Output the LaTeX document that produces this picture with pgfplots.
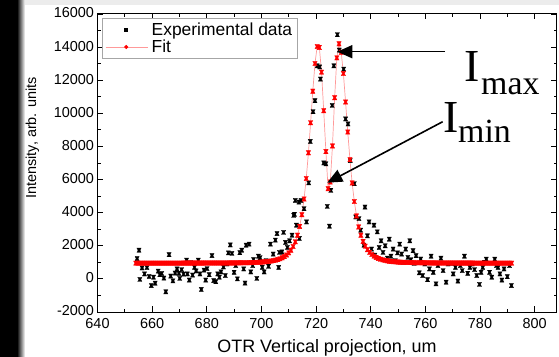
\documentclass[border=0pt]{standalone}
\usepackage{fontspec}
\setmainfont{Liberation Sans}
\newfontfamily\timesfont{Liberation Serif}
\usepackage{pgfplots}
\pgfplotsset{compat=1.18}
\usepackage{pgfplotstable}
\usetikzlibrary{arrows.meta}

\pgfdeclareplotmark{hg}{%
 \pgfpathmoveto{\pgfqpoint{-\pgfplotmarksize}{\pgfplotmarksize}}%
 \pgfpathlineto{\pgfqpoint{\pgfplotmarksize}{\pgfplotmarksize}}%
 \pgfpathlineto{\pgfqpoint{0.45\pgfplotmarksize}{0pt}}%
 \pgfpathlineto{\pgfqpoint{\pgfplotmarksize}{-\pgfplotmarksize}}%
 \pgfpathlineto{\pgfqpoint{-\pgfplotmarksize}{-\pgfplotmarksize}}%
 \pgfpathlineto{\pgfqpoint{-0.45\pgfplotmarksize}{0pt}}%
 \pgfpathclose
 \pgfusepathqfillstroke}

\pgfplotstableread[row sep=\\]{
x y\\
654.5 1230\\ 655.2 1730\\ 655.5 -30\\ 656.3 660\\ 657.2 300\\ 658.1 680\\ 658.9 150\\ 659.7 -400\\
660.5 100\\ 661.1 -260\\ 662.2 470\\ 662.8 250\\ 663.5 330\\ 664.3 50\\ 665.0 -780\\ 666.2 1460\\
666.8 170\\ 667.6 -120\\ 668.4 350\\ 669.1 600\\ 669.8 340\\ 670.1 30\\ 670.8 560\\ 671.5 290\\
672.6 1130\\ 672.9 300\\ 673.6 -70\\ 674.1 980\\ 674.8 230\\ 675.5 700\\ 676.1 480\\ 676.9 1130\\
677.5 300\\ 678.0 -640\\ 679.0 530\\ 679.6 -70\\ 680.1 620\\ 680.9 250\\ 681.9 1410\\ 682.5 -100\\
683.3 -170\\ 684.0 300\\ 684.6 100\\ 685.2 420\\ 686.1 720\\ 686.8 200\\ 687.4 900\\ 687.9 1570\\
688.6 2050\\ 689.2 1540\\ 690.0 400\\ 690.6 800\\ 691.2 0\\ 692.1 1580\\ 692.8 1730\\ 693.5 600\\
694.0 -250\\ 694.4 2035\\ 695.5 2100\\ 696.1 420\\ 696.8 800\\ 697.1 1170\\ 698.3 30\\ 698.9 1370\\
699.5 1280\\ 700.3 700\\ 701.0 420\\ 701.7 1100\\ 702.6 760\\ 703.3 2100\\ 704.3 1500\\ 705.1 2340\\
705.7 2740\\ 706.3 690\\ 706.6 1600\\ 707.5 1630\\ 708.1 2810\\ 708.8 2200\\ 709.5 1900\\ 710.3 2300\\
711.2 2640\\ 711.8 3840\\ 712.1 3900\\ 712.4 4740\\ 712.8 3240\\ 713.7 4640\\ 713.9 2440\\ 714.5 4740\\
715.6 4240\\ 716.5 3440\\ 717.3 5800\\ 717.9 8300\\ 718.9 10100\\ 719.6 10760\\ 720.4 12870\\ 721.3 12800\\
721.6 12070\\ 722.8 7000\\ 723.6 6950\\ 724.1 4380\\ 724.9 3180\\ 725.4 5350\\ 725.9 10480\\ 726.5 12870\\
727.8 14750\\ 728.5 13820\\ 730.1 12670\\ 730.8 9660\\ 731.7 9360\\ 732.5 7150\\ 734.0 5750\\ 734.5 3740\\
735.7 3640\\ 736.3 2940\\ 737.5 2035\\ 737.9 4340\\ 738.8 2600\\ 739.4 3440\\ 740.3 1800\\ 741.2 3240\\
741.5 1430\\ 742.4 2840\\ 743.1 1900\\ 743.8 2300\\ 744.5 1600\\ 745.3 2000\\ 746.1 1250\\ 746.8 2400\\
747.4 1370\\ 748.2 1800\\ 749.0 1100\\ 749.8 1570\\ 750.6 2100\\ 751.3 1500\\ 752.0 1000\\ 752.8 1800\\
753.6 1300\\ 754.3 2300\\ 754.7 1160\\ 755.5 1700\\ 755.9 940\\ 756.6 1400\\ 757.8 370\\ 758.3 1200\\
759.0 200\\ 759.8 900\\ 760.8 -50\\ 761.5 600\\ 762.1 1370\\ 762.9 400\\ 763.9 -300\\ 764.6 800\\
765.7 1250\\ 766.5 500\\ 767.6 -200\\ 768.3 900\\ 769.4 940\\ 770.2 300\\ 771.0 700\\ 771.9 -130\\
772.8 800\\ 773.5 500\\ 774.3 1370\\ 775.5 340\\ 776.3 700\\ 777.2 900\\ 778.0 560\\ 778.8 200\\
779.8 -330\\ 780.4 400\\ 781.0 690\\ 781.6 1000\\ 782.3 1190\\ 783.5 400\\ 784.3 100\\ 785.4 1190\\
786.0 800\\ 786.6 690\\ 787.3 300\\ 788.0 -70\\ 788.8 600\\ 790.0 130\\ 790.8 800\\ 791.5 -400\\
}\expdata

\pgfplotstableread[row sep=\\]{
x y\\
654.0 951\\ 654.8 951\\ 655.6 951\\ 656.4 951\\ 657.2 951\\ 658.0 951\\ 658.8 951\\ 659.6 951\\
660.4 951\\ 661.2 951\\ 662.0 952\\ 662.8 952\\ 663.6 952\\ 664.4 952\\ 665.2 952\\ 666.0 952\\
666.8 952\\ 667.6 953\\ 668.4 953\\ 669.2 953\\ 670.0 953\\ 670.8 953\\ 671.6 954\\ 672.4 954\\
673.2 954\\ 674.0 954\\ 674.8 955\\ 675.6 955\\ 676.4 955\\ 677.2 956\\ 678.0 956\\ 678.8 956\\
679.6 957\\ 680.4 957\\ 681.2 957\\ 682.0 958\\ 682.8 958\\ 683.6 959\\ 684.4 959\\ 685.2 960\\
686.0 960\\ 686.8 961\\ 687.6 962\\ 688.4 963\\ 689.2 963\\ 690.0 964\\ 690.8 966\\ 691.6 968\\
692.4 970\\ 693.2 972\\ 694.0 974\\ 694.8 977\\ 695.6 980\\ 696.4 984\\ 697.2 990\\ 698.0 996\\
698.8 1002\\ 699.6 1010\\ 700.4 1019\\ 701.2 1030\\ 702.0 1043\\ 702.8 1059\\ 703.6 1078\\ 704.4 1102\\
705.2 1132\\ 706.0 1168\\ 706.8 1215\\ 707.6 1273\\ 708.4 1348\\ 709.2 1444\\ 710.0 1570\\ 710.8 1735\\
711.6 1954\\ 712.4 2246\\ 713.2 2639\\ 714.0 3168\\ 714.8 3880\\ 715.6 4828\\ 716.4 6065\\ 717.2 7615\\
718.0 9430\\ 718.8 11339\\ 719.6 13012\\ 720.4 14036\\ 721.2 13980\\ 722.0 12490\\ 722.8 10160\\ 723.6 7690\\
724.4 5450\\ 725.2 5850\\ 726.0 8030\\ 726.8 10945\\ 727.6 13350\\ 728.4 14198\\ 729.2 13684\\ 730.0 12403\\
730.8 10684\\ 731.6 8870\\ 732.4 7203\\ 733.2 5797\\ 734.0 4672\\ 734.8 3802\\ 735.6 3140\\ 736.4 2640\\
737.2 2264\\ 738.0 1980\\ 738.8 1764\\ 739.6 1600\\ 740.4 1473\\ 741.2 1375\\ 742.0 1297\\ 742.8 1237\\
743.6 1188\\ 744.4 1149\\ 745.2 1118\\ 746.0 1092\\ 746.8 1071\\ 747.6 1054\\ 748.4 1039\\ 749.2 1027\\
750.0 1017\\ 750.8 1009\\ 751.6 1002\\ 752.4 996\\ 753.2 991\\ 754.0 987\\ 754.8 983\\ 755.6 980\\
756.4 977\\ 757.2 975\\ 758.0 973\\ 758.8 971\\ 759.6 969\\ 760.4 968\\ 761.2 966\\ 762.0 965\\
762.8 964\\ 763.6 963\\ 764.4 962\\ 765.2 961\\ 766.0 960\\ 766.8 960\\ 767.6 959\\ 768.4 958\\
769.2 958\\ 770.0 957\\ 770.8 957\\ 771.6 956\\ 772.4 956\\ 773.2 955\\ 774.0 955\\ 774.8 955\\
775.6 954\\ 776.4 954\\ 777.2 954\\ 778.0 953\\ 778.8 953\\ 779.6 953\\ 780.4 953\\ 781.2 952\\
782.0 952\\ 782.8 952\\ 783.6 952\\ 784.4 952\\ 785.2 952\\ 786.0 951\\ 786.8 951\\ 787.6 951\\
788.4 951\\ 789.2 951\\ 790.0 951\\ 790.8 951\\ 791.6 951\\
}\fitdata

\begin{document}
\begin{tikzpicture}
\path[use as bounding box] (0,0) rectangle (559bp,357bp);
\fill[black] (0,0) rectangle (17bp,357bp);
\shade[left color=black,right color=white] (17bp,0) rectangle (25bp,357bp);
\fill[gray!15] (25bp,352bp) rectangle (559bp,357bp);
\begin{axis}[
  at={(97.5bp,45bp)}, anchor=south west,
  scale only axis, width=459bp, height=298bp,
  xmin=640, xmax=808, ymin=-2000, ymax=16000,
  xtick={640,660,...,800}, ytick={-2000,0,...,16000},
  minor x tick num=1, minor y tick num=1,
  scaled y ticks=false, scaled x ticks=false,
  /pgf/number format/assume math mode=true,
  /pgf/number format/1000 sep={},
  tick align=inside,
  major tick length=5.5bp, minor tick length=3bp,
  every tick/.style={black, line width=0.8bp},
  axis line style={line width=1bp, black},
  ticklabel style={font=\fontsize{14.5}{16}\selectfont},
  xticklabel style={yshift=-2.5bp},
  yticklabel style={yshift=1bp},
  xlabel={OTR Vertical projection, um},
  ylabel={Intensity, arb. units},
  xlabel style={at={(axis description cs:0.5,0)}, anchor=base, yshift=-40bp, font=\fontsize{18}{20}\selectfont},
  ylabel style={at={(axis description cs:-0.1416,0.584)}, anchor=center, font=\fontsize{14.5}{16}\selectfont},
  legend style={at={(axis description cs:0.0098,0.9866)}, anchor=north west,
    draw=gray!70, line width=0.6bp, font=\fontsize{17.5}{19.5}\selectfont,
    inner xsep=3bp, inner ysep=2.5bp, row sep=-1bp},
  legend cell align=left,
]
\addplot[only marks, mark=hg, mark size=2.1bp, black, mark options={line width=0.3bp}, forget plot]
  table[x=x,y=y]{\expdata};
\addplot[color=red!40, line width=0.7bp, mark=hg, mark size=2.2bp,
  mark options={red, fill=red, draw=red, line width=0.3bp}, forget plot]
  table[x=x,y=y]{\fitdata};
\addlegendimage{legend image code/.code={\path[draw=none,fill=none] (0bp,0bp) rectangle (44bp,0.1bp); \fill[black] (19bp,-1.4bp) rectangle (22bp,1.6bp);}}
\addlegendentry{Experimental data}
\addlegendimage{legend image code/.code={\path[draw=none,fill=none] (0bp,0bp) rectangle (44bp,0.1bp); \draw[red!40, line width=0.8bp] (0bp,0bp) -- (42bp,0bp); \fill[red] (20.5bp,0bp) circle (1.7bp);}}
\addlegendentry{Fit}
\end{axis}
\draw[line width=1.6bp, -{Triangle[length=15bp,width=13bp]}] (445bp,305.3bp) -- (337.3bp,305.3bp);
\draw[line width=1.6bp, -{Triangle[length=15bp,width=13bp]}] (442.7bp,235.3bp) -- (327.3bp,174.3bp);
\node[anchor=base west, inner sep=0pt, font=\timesfont\fontsize{46}{46}\selectfont] at (464bp,275bp) {I};
\node[anchor=base west, inner sep=0pt, font=\timesfont\fontsize{34}{34}\selectfont] at (481bp,262bp) {max};
\node[anchor=base west, inner sep=0pt, font=\timesfont\fontsize{46}{46}\selectfont] at (443bp,224bp) {I};
\node[anchor=base west, inner sep=0pt, font=\timesfont\fontsize{34}{34}\selectfont] at (458bp,214bp) {min};
\end{tikzpicture}
\end{document}
